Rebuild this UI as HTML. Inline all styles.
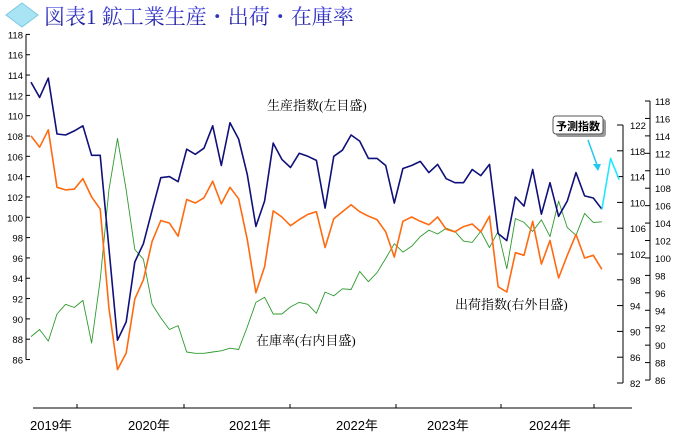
<!DOCTYPE html>
<html><head><meta charset="utf-8"><style>
body{margin:0;background:#fff;width:683px;height:443px;overflow:hidden}
svg{display:block;font-family:"Liberation Sans","Noto Sans CJK JP",sans-serif}
</style></head><body>
<svg width="683" height="443">
<defs><linearGradient id="tg" x1="0" y1="0" x2="0" y2="1"><stop offset="0" stop-color="#4a4ae8"/><stop offset="1" stop-color="#141490"/></linearGradient></defs>
<g>
<polygon points="22,3 38,15 22,27 6,15" fill="#a8e4f4" stroke="#7cc8e0"/>
<text x="44" y="24" font-size="21" fill="url(#tg)" font-family="'Liberation Serif','Noto Serif CJK SC',serif">図表1 鉱工業生産・出荷・在庫率</text>
</g>
<g id="axes"></g>
<g id="series"></g>
<text x="267" y="110" font-size="13" fill="#000" font-family="'Liberation Serif','Noto Serif CJK SC',serif">生産指数(左目盛)</text>
<text x="256" y="345" font-size="13" fill="#000" font-family="'Liberation Serif','Noto Serif CJK SC',serif">在庫率(右内目盛)</text>
<text x="455" y="309" font-size="13" fill="#000" font-family="'Liberation Serif','Noto Serif CJK SC',serif">出荷指数(右外目盛)</text>
<g>
<rect x="556" y="119" width="50" height="18" rx="3" fill="#999"/>
<rect x="553" y="116" width="50" height="18" rx="3" fill="#fff" stroke="#555"/>
<text x="578" y="130" font-size="11" font-weight="bold" text-anchor="middle" fill="#000">予測指数</text>
<line x1="588" y1="140" x2="597" y2="165" stroke="#22c8f0" stroke-width="1.5"/>
<polygon points="593,164 601,164 598,171" fill="#22c8f0"/>
</g>
</svg>
<script>
const months=69;
const production=[113.3,111.8,113.7,108.2,108.1,108.5,109.0,106.1,106.1,97.0,87.9,89.7,95.6,97.4,100.7,103.9,104.0,103.5,106.7,106.2,106.8,109.0,105.1,109.3,107.7,104.2,99.1,101.6,107.3,105.7,104.9,106.3,106.0,105.6,100.9,106.0,106.6,108.1,107.5,105.8,105.8,105.1,101.4,104.8,105.1,105.5,104.4,105.2,103.8,103.4,103.4,104.7,104.1,105.2,98.4,97.7,102.0,101.1,104.7,100.3,103.4,100.1,101.6,104.4,102.1,101.9,100.8];
const forecast=[100.8,105.8,103.7];
const shipments=[114.0,112.7,114.7,108.1,107.8,107.9,109.1,107.0,105.6,94.3,87.2,89.1,95.3,97.5,101.9,104.3,104.0,102.5,106.7,106.3,106.9,108.8,106.2,108.1,106.8,102.1,96.0,99.0,105.4,104.7,103.7,104.4,105.0,105.3,101.2,104.5,105.3,106.1,105.3,104.8,104.4,103.0,100.1,104.2,104.7,104.2,103.8,104.7,103.3,103.0,103.6,103.9,103.0,104.8,96.7,96.1,100.6,100.3,104.2,99.3,102.0,97.7,100.3,102.7,100.0,100.3,98.7];
const inventory=[89.2,90.3,88.5,92.7,94.2,93.7,94.8,88.2,98.0,111.9,119.9,111.9,102.7,101.2,94.2,92.1,90.3,90.9,86.8,86.6,86.6,86.8,87.0,87.4,87.2,90.7,94.5,95.3,92.7,92.7,93.8,94.5,94.2,92.8,96.1,95.5,96.6,96.5,99.3,97.7,99.1,101.3,103.6,102.3,103.2,104.7,105.7,105.1,106.0,105.5,104.0,103.8,105.5,103.0,105.5,99.7,107.5,106.9,105.5,107.3,104.7,110.2,106.1,104.9,108.3,106.9,107.0];
const leftTicks=[118,116,114,112,110,108,106,104,102,100,98,96,94,92,90,88,86];
const innerTicks=[122,118,114,110,106,102,98,94,90,86,82];
const outerTicks=[118,116,114,112,110,108,106,104,102,100,98,96,94,92,90,88,86];
const yearLabels=["2019年","2020年","2021年","2022年","2023年","2024年"];
const yearTickX=[77,184,290,396,501,594];
const yearLabelX=[30,128,229,336,427,529];
const NS="http://www.w3.org/2000/svg";
const x=i=>31+i*8.65;
const yL=v=>34.4+(118-v)*10.16;
const yIn=v=>125+(122-v)*6.45;
const yOut=v=>101+(118-v)*8.72;
function mk(tag,attrs,parent,text){const e=document.createElementNS(NS,tag);for(const k in attrs)e.setAttribute(k,attrs[k]);if(text!=null)e.textContent=text;parent.appendChild(e);return e;}
const ax=document.getElementById('axes'),sr=document.getElementById('series');
let a=mk('line',{x1:26,y1:yL(118),x2:26,y2:yL(86),stroke:'#000'},ax);


leftTicks.forEach(v=>{mk('line',{x1:26,x2:30,y1:yL(v),y2:yL(v),stroke:'#000'},ax);
const t=mk('text',{x:23,y:yL(v)+4,'font-size':9.5,'text-anchor':'end'},ax,v);

});
a=mk('line',{x1:623,y1:yIn(122),x2:623,y2:yIn(82),stroke:'#000'},ax);


innerTicks.forEach(v=>{mk('line',{x1:617,x2:623,y1:yIn(v),y2:yIn(v),stroke:'#000'},ax);
const t=mk('text',{x:630,y:yIn(v)+4,'font-size':9.5},ax,v);

});
a=mk('line',{x1:650,y1:yOut(118),x2:650,y2:yOut(86),stroke:'#000'},ax);


outerTicks.forEach(v=>{mk('line',{x1:645,x2:650,y1:yOut(v),y2:yOut(v),stroke:'#000'},ax);
const t=mk('text',{x:655,y:yOut(v)+4,'font-size':9.5},ax,v);

});
a=mk('line',{x1:33,y1:408,x2:632,y2:408,stroke:'#000'},ax);


yearTickX.forEach(px=>mk('line',{x1:px,x2:px,y1:404,y2:408,stroke:'#000'},ax));
yearLabels.forEach((l,i)=>{const t=mk('text',{x:yearLabelX[i],y:430,'font-size':13},ax,l);

});
function line(arr,yf,off,color,w,dash,name){const p=arr.map((v,i)=>x(i+off).toFixed(1)+','+yf(v).toFixed(1)).join(' ');
const e=mk('polyline',{points:p,fill:'none',stroke:color,'stroke-width':w,'stroke-linejoin':'round'},sr);
if(dash)e.setAttribute('stroke-dasharray',dash);

}
line(inventory,yIn,0,'#2e9a2e',0.9,'',"inventory-line");
line(shipments,yOut,0,'#ff6a10',1.6,'',"shipment-line");
line(production,yL,0,'#10107a',1.6,'',"production-line");
line(forecast,yL,production.length-1,'#22e8ff',1.6,'',"forecast-line");
</script>
</body></html>
